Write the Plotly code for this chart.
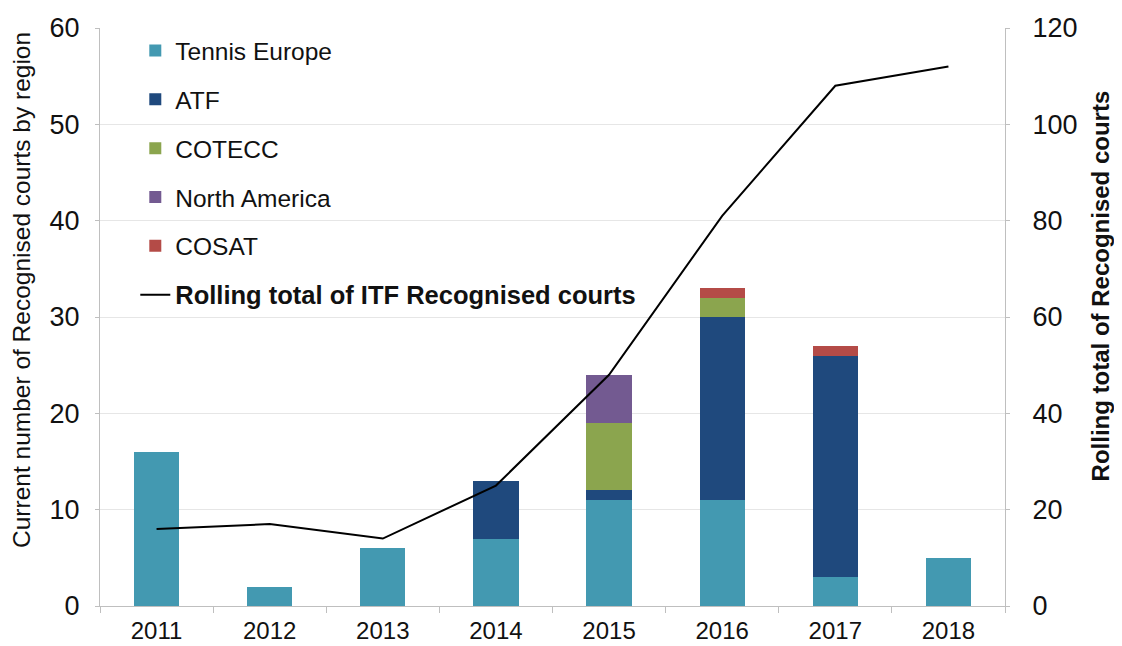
import plotly.graph_objects as go

years = ["2011", "2012", "2013", "2014", "2015", "2016", "2017", "2018"]
tennis_europe = [16, 2, 6, 7, 11, 11, 3, 5]
atf = [0, 0, 0, 6, 1, 19, 23, 0]
cotecc = [0, 0, 0, 0, 7, 2, 0, 0]
north_america = [0, 0, 0, 0, 5, 0, 0, 0]
cosat = [0, 0, 0, 0, 0, 1, 1, 0]
rolling_total = [16, 17, 14, 25, 48, 81, 108, 112]

FONT = "Liberation Sans, Arial, sans-serif"
TXT = "#111111"

fig = go.Figure()
series = [
    ("Tennis Europe", tennis_europe, "#4399B1"),
    ("ATF", atf, "#1F497D"),
    ("COTECC", cotecc, "#8BA54E"),
    ("North America", north_america, "#735A91"),
    ("COSAT", cosat, "#B44B47"),
]
for name, vals, col in series:
    fig.add_trace(go.Bar(x=years, y=vals, name=name, marker_color=col,
                         marker_line_width=0, legendgroup=name, width=0.4))

fig.add_trace(go.Scatter(x=years, y=rolling_total, yaxis="y2", mode="lines",
                         name='<span style="font-size:25.5px"><b>Rolling total of ITF Recognised courts</b></span>',
                         line=dict(color="black", width=2), legendgroup="line"))

# page body has an 8px margin, so the figure is sized to fit the window
fig.update_layout(
    width=1114, height=638,
    barmode="stack",
    plot_bgcolor="white", paper_bgcolor="white",
    margin=dict(l=92, r=117, t=20, b=40),
    font=dict(family=FONT, color=TXT),
    legend=dict(x=0.039, y=1.0, xanchor="left", yanchor="top",
                traceorder="grouped", tracegroupgap=14,
                font=dict(size=24.5, family=FONT, color=TXT),
                bgcolor="rgba(0,0,0,0)", itemwidth=30),
    xaxis=dict(type="category", showgrid=False, showline=True, automargin=False,
               linecolor="#BFBFBF", linewidth=1, ticks="outside",
               tickson="boundaries", ticklen=6, tickcolor="#BFBFBF",
               ticklabelstandoff=3,
               tickfont=dict(size=24, family=FONT, color=TXT)),
    yaxis=dict(range=[0, 60], dtick=10, showgrid=True, gridcolor="#E6E6E6",
               showline=True, linecolor="#BFBFBF", zeroline=False, automargin=False,
               ticks="outside", ticklen=4, tickcolor="#BFBFBF", ticklabelstandoff=10,
               tickfont=dict(size=27, family=FONT, color=TXT)),
    yaxis2=dict(range=[0, 120], dtick=20, overlaying="y", side="right",
                showgrid=False, showline=True, linecolor="#BFBFBF", zeroline=False,
                automargin=False, ticks="outside", ticklen=4, tickcolor="#BFBFBF",
                ticklabelstandoff=17,
                tickfont=dict(size=27, family=FONT, color=TXT)),
    annotations=[
        dict(text="Current number of Recognised courts by region",
             xref="paper", yref="paper", x=-0.0873, y=0.5467,
             xanchor="center", yanchor="middle", textangle=-90, showarrow=False,
             font=dict(size=24.5, family=FONT, color=TXT)),
        dict(text="<b>Rolling total of Recognised courts</b>",
             xref="paper", yref="paper", x=1.106, y=0.5545,
             xanchor="center", yanchor="middle", textangle=-90, showarrow=False,
             font=dict(size=24, family=FONT, color=TXT)),
    ],
)

fig.write_html("out.html")
